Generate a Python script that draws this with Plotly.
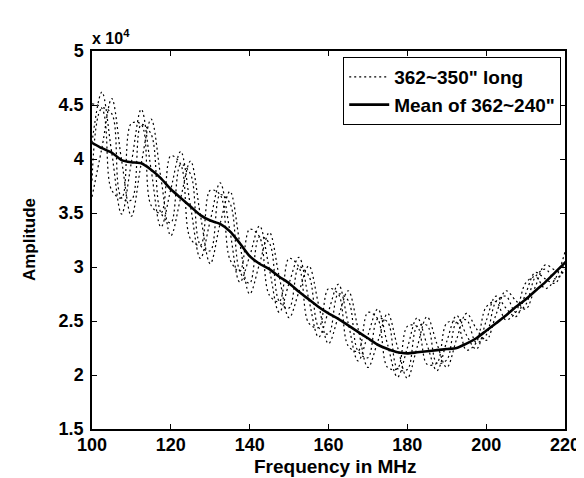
import plotly.graph_objects as go

# Frequency samples (MHz)
freq = [100.0, 102.5, 105.0, 107.5, 110.0, 112.5, 115.0, 117.5, 120.0, 122.5,
        125.0, 127.5, 130.0, 132.5, 135.0, 137.5, 140.0, 142.5, 145.0, 147.5,
        150.0, 152.5, 155.0, 157.5, 160.0, 162.5, 165.0, 167.5, 170.0, 172.5,
        175.0, 177.5, 180.0, 182.5, 185.0, 187.5, 190.0, 192.5, 195.0, 197.5,
        200.0, 202.5, 205.0, 207.5, 210.0, 212.5, 215.0, 217.5, 220.0]

# Amplitudes in units of 10^4
dotted_a = [4.15, 4.62, 4.06, 3.49, 3.97, 4.46, 3.90, 3.37, 3.72, 4.07,
            3.56, 3.08, 3.43, 3.78, 3.33, 2.86, 3.10, 3.38, 2.98, 2.58,
            2.85, 3.09, 2.70, 2.35, 2.59, 2.84, 2.48, 2.13, 2.37, 2.61,
            2.28, 1.98, 2.25, 2.53, 2.28, 2.04, 2.31, 2.55, 2.37, 2.24,
            2.50, 2.73, 2.62, 2.54, 2.75, 2.95, 2.89, 2.85, 3.06]
dotted_b = [3.80, 4.47, 4.42, 3.64, 3.62, 4.32, 4.23, 3.50, 3.41, 3.95,
            3.86, 3.20, 3.15, 3.67, 3.59, 2.96, 2.85, 3.28, 3.22, 2.68,
            2.62, 3.00, 2.92, 2.44, 2.38, 2.75, 2.69, 2.22, 2.16, 2.52,
            2.49, 2.06, 2.05, 2.45, 2.46, 2.11, 2.14, 2.49, 2.51, 2.30,
            2.37, 2.68, 2.73, 2.58, 2.65, 2.91, 2.98, 2.89, 2.98]
dotted_c = [3.65, 4.10, 4.56, 3.99, 3.47, 3.96, 4.37, 3.82, 3.29, 3.64,
            3.98, 3.48, 3.03, 3.40, 3.70, 3.22, 2.75, 3.03, 3.32, 2.91,
            2.53, 2.77, 3.01, 2.65, 2.29, 2.54, 2.78, 2.43, 2.07, 2.31,
            2.57, 2.26, 1.97, 2.26, 2.54, 2.29, 2.07, 2.33, 2.57, 2.43,
            2.32, 2.56, 2.78, 2.69, 2.61, 2.82, 3.02, 2.97, 2.94]
dotted_d = [4.51, 4.47, 3.71, 3.64, 4.33, 4.32, 3.57, 3.50, 4.03, 3.95,
            3.26, 3.20, 3.71, 3.67, 3.07, 2.96, 3.35, 3.28, 2.74, 2.68,
            3.08, 3.00, 2.48, 2.44, 2.80, 2.75, 2.27, 2.22, 2.58, 2.52,
            2.07, 2.06, 2.45, 2.45, 2.10, 2.11, 2.48, 2.49, 2.23, 2.30,
            2.63, 2.68, 2.51, 2.58, 2.85, 2.91, 2.80, 2.89, 3.14]
mean_curve = [4.15, 4.10, 4.06, 3.99, 3.97, 3.96, 3.90, 3.82, 3.72, 3.64,
              3.56, 3.48, 3.43, 3.40, 3.33, 3.22, 3.10, 3.03, 2.98, 2.91,
              2.85, 2.77, 2.70, 2.63, 2.57, 2.52, 2.46, 2.40, 2.34, 2.28,
              2.24, 2.21, 2.20, 2.21, 2.22, 2.23, 2.24, 2.25, 2.29, 2.34,
              2.41, 2.48, 2.55, 2.63, 2.70, 2.78, 2.86, 2.95, 3.04]

x_ticks = [100, 120, 140, 160, 180, 200, 220]
y_ticks = [1.5, 2, 2.5, 3, 3.5, 4, 4.5, 5]
y_tick_text = ["1.5", "2", "2.5", "3", "3.5", "4", "4.5", "5"]

legend_dotted = "362~350\" long"
legend_mean = "Mean of 362~240\""

FONT = "Liberation Sans, Arial, sans-serif"

fig = go.Figure()
for i, ys in enumerate([dotted_a, dotted_b, dotted_c, dotted_d]):
    fig.add_trace(go.Scatter(
        x=freq, y=ys, mode="lines",
        line=dict(color="black", width=1.2, dash="2px,3px", shape="spline", smoothing=1.0),
        name=legend_dotted, showlegend=(i == 0), legendrank=1,
    ))
fig.add_trace(go.Scatter(
    x=freq, y=mean_curve, mode="lines",
    line=dict(color="black", width=2.6, shape="spline", smoothing=0.6),
    name=legend_mean, legendrank=2,
))

axis_common = dict(
    showline=True, linecolor="black", linewidth=1.5, mirror="ticks",
    ticks="inside", ticklen=5, tickwidth=1.2, tickcolor="black",
    showgrid=False, zeroline=False,
    tickfont=dict(family=FONT, size=18, color="black", weight="bold"),
)

fig.update_layout(
    width=584, height=478,
    margin=dict(l=84, r=18, t=43, b=57, pad=0),
    paper_bgcolor="white", plot_bgcolor="white",
    font=dict(family=FONT, color="black"),
    xaxis=dict(range=[100, 220], tickvals=x_ticks, ticklabelstandoff=-1, **axis_common),
    yaxis=dict(range=[1.5, 5], tickvals=y_ticks, ticktext=y_tick_text,
               ticklabelstandoff=3, **axis_common),
    legend=dict(
        x=0.992, xanchor="right", y=0.984, yanchor="top",
        bgcolor="white", bordercolor="black", borderwidth=1,
        font=dict(family=FONT, size=19, color="black", weight="bold"),
        tracegroupgap=0, itemwidth=40,
    ),
    showlegend=True,
    annotations=[
        dict(text="Amplitude", textangle=-90, xref="paper", yref="paper",
             x=-0.133, y=0.5, xanchor="center", yanchor="middle", showarrow=False,
             font=dict(family=FONT, size=17, color="black", weight="bold")),
        dict(text="Frequency in MHz", xref="paper", yref="paper",
             x=0.515, y=-0.1, xanchor="center", yanchor="middle", showarrow=False,
             font=dict(family=FONT, size=19, color="black", weight="bold")),
        dict(text="x 10<sup>4</sup>", xref="paper", yref="paper",
             x=-0.004, y=1.005, xanchor="left", yanchor="bottom", showarrow=False,
             font=dict(family=FONT, size=16, color="black", weight="bold")),
    ],
)

fig.write_html("out.html")
